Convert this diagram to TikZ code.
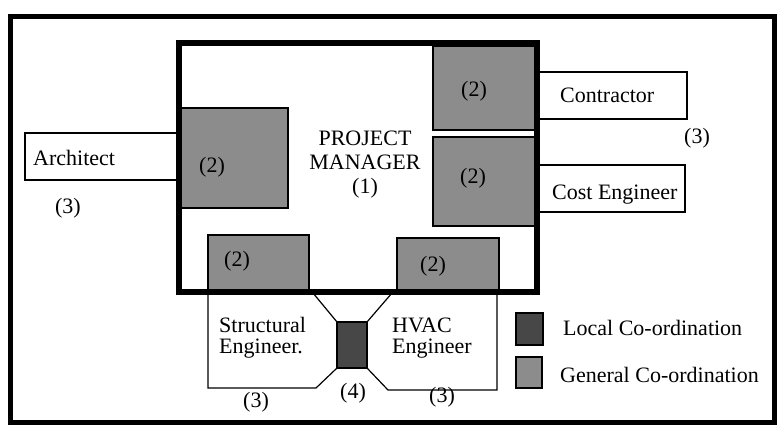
\documentclass[tikz,border=0pt]{standalone}
\usepackage{fontspec}
\setmainfont{Liberation Serif}
\begin{document}
\begin{tikzpicture}[x=1pt,y=-1pt,
  txt/.style={font=\fontsize{22}{24}\selectfont, inner sep=0pt, anchor=base},
  txtl/.style={txt, anchor=base west},
  thin box/.style={draw=black, line width=1.2pt},
  general/.style={thin box, fill=black!45},
  local/.style={thin box, fill=black!72},
  white box/.style={thin box, fill=white}]
\useasboundingbox (0,0) rectangle (777,426);
% outer frame
\draw[line width=5pt] (10,16) rectangle (774,422);
% white external boxes
\draw[white box] (25,133) rectangle (179,180);
\draw[white box] (537,72) rectangle (687,119);
\draw[white box] (537,165) rectangle (685,212);
% structural / HVAC shapes
\draw[thin box] (313,293) -- (337,322) (337,368) -- (316,388) -- (208,388) -- (208,293);
\draw[thin box] (392,293) -- (367,322) (367,368) -- (388,390) -- (497,390) -- (497,293);
% general co-ordination boxes
\draw[general] (181,108) rectangle (288,208);
\draw[general] (433,46) rectangle (537,130);
\draw[general] (433,137) rectangle (537,226);
\draw[general] (208,235) rectangle (309,292);
\draw[general] (397,238) rectangle (499,292);
% local co-ordination box
\draw[local] (337,322) rectangle (367,368);
% project manager frame
\draw[line width=5.5pt] (179,43) rectangle (537,292);
% texts
\node[txtl] (arch) at (33,165) {Architect};
\node[txt] (pm1) at (365,145) {PROJECT};
\node[txt] (pm2) at (365,169) {MANAGER};
\node[txt] (pm3) at (365,193) {(1)};
\node[txtl] (contr) at (560,102) {Contractor};
\node[txtl] (cost) at (552,199) {Cost Engineer};
\node[txt] (n3a) at (697,143) {(3)};
\node[txt] (n3b) at (68,213) {(3)};
\node[txt] (g1) at (212,172) {(2)};
\node[txt] (g2) at (474,96) {(2)};
\node[txt] (g3) at (473,183) {(2)};
\node[txt] (g4) at (237,266) {(2)};
\node[txt] (g5) at (433,271) {(2)};
\node[txtl] (s1) at (219,332) {Structural};
\node[txtl] (s2) at (219,353) {Engineer.};
\node[txtl] (h1) at (392,332) {HVAC};
\node[txtl] (h2) at (392,353) {Engineer};
\node[txt] (n4) at (353,398) {(4)};
\node[txt] (n3c) at (256,407) {(3)};
\node[txt] (n3d) at (442,402) {(3)};
% legend
\draw[local] (516,313) rectangle (543,345);
\draw[general] (516,357) rectangle (542,388);
\node[txtl] (leg1) at (563,335) {Local Co-ordination};
\node[txtl] (leg2) at (560,382) {General Co-ordination};
\end{tikzpicture}
\end{document}
